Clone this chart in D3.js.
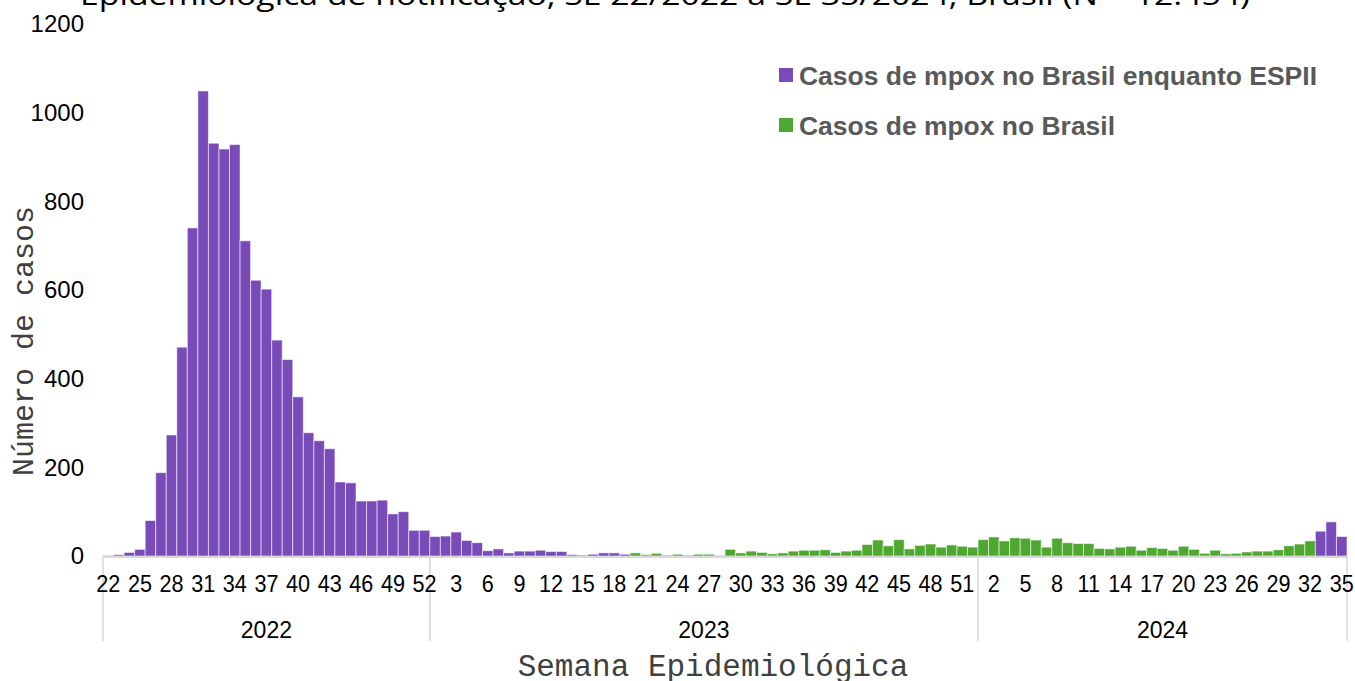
<!DOCTYPE html>
<html><head><meta charset="utf-8">
<script src="https://cdn.jsdelivr.net/npm/d3@7"></script>
<style>
html,body{margin:0;padding:0;background:#fff;}
svg{display:block;}
</style></head>
<body>
<svg id="chart" width="1355" height="681"></svg>
<script>
// ---- DATA ----
const years = [2022, 2023, 2024];
const weeks2022 = d3.range(22, 53);
const weeks2023 = d3.range(1, 53);
const weeks2024 = d3.range(1, 36);
const values2022 = [1,3,8,15,80,188,273,471,740,1049,931,918,928,711,622,602,487,443,359,278,260,242,167,165,124,124,126,95,100,58,58];
const values2023 = [44,45,54,35,30,12,16,7,11,11,13,10,10,3,2,4,7,7,4,7,3,6,2,4,2,4,4,1,15,7,11,8,5,7,11,13,13,14,8,11,13,26,36,23,37,16,24,27,20,25,22,20];
const values2024 = [37,43,34,41,40,36,20,40,30,28,28,17,16,20,22,13,19,17,13,22,15,6,13,5,6,9,11,11,14,23,27,34,56,77,44];
// weeks under ESPII (PHEIC) per year
const espii2022 = weeks2022;
const espii2023 = d3.range(1, 20);
const espii2024 = [33, 34, 35];
const yTicks = [0, 200, 400, 600, 800, 1000, 1200];
const seriesNames = ["Casos de mpox no Brasil enquanto ESPII", "Casos de mpox no Brasil"];
const titleText = "Epidemiológica de notificação, SE 22/2022 a SE 35/2024, Brasil (N = 12.454)";
const yTitle = "Número de casos";
const xTitle = "Semana Epidemiológica";

const colors = {espii: "#784BB8", normal: "#4EA72E"};

// ---- BUILD TABLE ----
const weeksBy = {2022: weeks2022, 2023: weeks2023, 2024: weeks2024};
const valsBy = {2022: values2022, 2023: values2023, 2024: values2024};
const espiiBy = {2022: espii2022, 2023: espii2023, 2024: espii2024};
const data = [];
years.forEach(yr => {
  weeksBy[yr].forEach((w, i) => {
    data.push({key: yr + "-" + w, year: yr, week: w, value: valsBy[yr][i], espii: espiiBy[yr].includes(w)});
  });
});

const svg = d3.select("#chart");
const mLeft = 103, mRight = 1347, mTop = 24, mBottom = 556;

const x = d3.scaleBand().domain(data.map(d => d.key)).range([mLeft, mRight]).paddingInner(0).paddingOuter(0);
const y = d3.scaleLinear().domain([0, 1200]).range([mBottom, mTop]);

// title (partially clipped at top, as in the source)
svg.append("text")
  .attr("x", 80).attr("y", 5)
  .attr("textLength", 1170).attr("lengthAdjust", "spacingAndGlyphs")
  .style("font-family", "'Open Sans', 'Liberation Sans', sans-serif")
  .style("font-size", "28px").style("fill", "#000")
  .text(titleText);

// year separators (drawn first, under labels)
const boundaries = [];
const yearSpans = [];
years.forEach(yr => {
  const ks = data.filter(d => d.year === yr);
  const x0 = x(ks[0].key), x1 = x(ks[ks.length - 1].key) + x.bandwidth();
  boundaries.push(x0, x1);
  yearSpans.push({yr, x0, x1});
});
Array.from(new Set(boundaries)).forEach(bx => {
  svg.append("line").attr("x1", bx).attr("x2", bx).attr("y1", mBottom).attr("y2", 641)
    .attr("stroke", "#d9d9d9").attr("stroke-width", 1.5);
});

// bars
svg.append("g").selectAll("rect").data(data).join("rect")
  .attr("x", d => x(d.key))
  .attr("width", x.bandwidth())
  .attr("y", d => y(d.value))
  .attr("height", d => y(0) - y(d.value))
  .attr("fill", d => d.espii ? colors.espii : colors.normal)
  .attr("stroke", "#fff").attr("stroke-opacity", 0.55).attr("stroke-width", 1);

// y axis
const yAxis = svg.append("g").attr("transform", `translate(${mLeft},0)`)
  .call(d3.axisLeft(y).tickValues(yTicks).tickSize(0).tickPadding(19).tickFormat(d3.format("d")));
yAxis.select(".domain").remove();
yAxis.selectAll("text").style("font-family", "'Liberation Sans', Arial, sans-serif").style("font-size", "24px").style("fill", "#000");

// x axis base line
svg.append("line").attr("x1", mLeft).attr("x2", mRight).attr("y1", mBottom + 1).attr("y2", mBottom + 1)
  .attr("stroke", "#d9d9d9").attr("stroke-width", 2);

// x tick labels, every 3rd week
const tickKeys = data.filter((d, i) => i % 3 === 0).map(d => d.key);
const weekOf = {};
data.forEach(d => weekOf[d.key] = d.week);
const xAxis = svg.append("g").attr("transform", `translate(0,${mBottom})`)
  .call(d3.axisBottom(x).tickValues(tickKeys).tickSize(0).tickPadding(19).tickFormat(k => weekOf[k]));
xAxis.select(".domain").remove();
xAxis.selectAll("text")
  .style("font-family", "'Liberation Sans', Arial, sans-serif").style("font-size", "24px").style("fill", "#000")
  .attr("transform", "scale(0.9,1)");

// year labels
yearSpans.forEach(s => {
  svg.append("text").attr("x", (s.x0 + s.x1) / 2).attr("y", 638)
    .attr("text-anchor", "middle")
    .style("font-family", "'Liberation Sans', Arial, sans-serif").style("font-size", "23px").style("fill", "#000")
    .text(s.yr);
});

// axis titles
svg.append("text").attr("transform", `translate(33,341) rotate(-90)`)
  .attr("text-anchor", "middle")
  .style("font-family", "'Liberation Mono', 'Courier New', monospace").style("font-size", "30px").style("fill", "#404040")
  .text(yTitle);
svg.append("text").attr("x", 713).attr("y", 676)
  .attr("text-anchor", "middle")
  .style("font-family", "'Liberation Mono', 'Courier New', monospace").style("font-size", "31px").style("fill", "#404040")
  .text(xTitle);

// legend
const legend = svg.append("g");
const legendItems = [{name: seriesNames[0], color: colors.espii, y: 76, w: 518}, {name: seriesNames[1], color: colors.normal, y: 126, w: 316}];
legendItems.forEach(it => {
  legend.append("rect").attr("x", 779).attr("y", it.y - 8).attr("width", 14).attr("height", 14).attr("fill", it.color);
  legend.append("text").attr("x", 799).attr("y", it.y + 9)
    .attr("textLength", it.w).attr("lengthAdjust", "spacingAndGlyphs")
    .style("font-family", "'Liberation Sans', Arial, sans-serif").style("font-weight", "bold")
    .style("font-size", "25px").style("fill", "#595959")
    .text(it.name);
});
</script>
</body></html>
